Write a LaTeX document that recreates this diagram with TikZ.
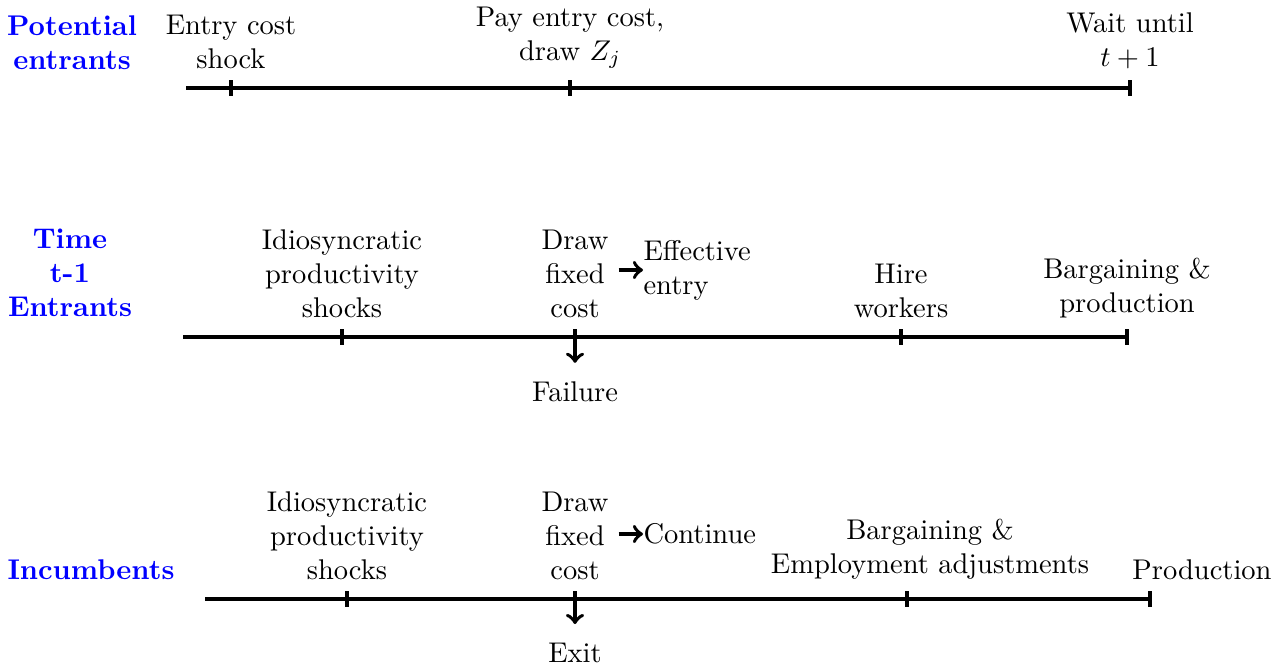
\documentclass[tikz,border=0pt]{standalone}
\usepackage{tikz}
\begin{document}
\begin{tikzpicture}[x=0.3509pt,y=-0.3509pt,
  tl/.style={line width=1.3pt},
  lbl/.style={align=center,anchor=south,above=3.2pt},
  side/.style={align=center,text=blue,font=\bfseries},
  arr/.style={line width=1.3pt,->}]
\useasboundingbox (0,0) rectangle (1273,667);
% ---- row 1
\coordinate (s1) at (186,88); \coordinate (e1) at (1130,88);
\coordinate (a1) at (231,88); \coordinate (b1) at (570,88);
\draw[tl] (s1) -- (e1);
\foreach \p in {a1,b1,e1} \draw[tl] (\p) ++(0,-8) -- ++(0,16);
\node[side] (pot) at (72,43) {Potential\\entrants};
\node[lbl] (ec) at (a1) {Entry cost\\shock};
\node[lbl] (pay) at (b1) {Pay entry cost,\\draw $Z_j$};
\node[lbl] (wait) at (e1) {Wait until\\$t+1$};
% ---- row 2
\coordinate (s2) at (183,337); \coordinate (e2) at (1127,337);
\coordinate (a2) at (342,337); \coordinate (b2) at (575,337); \coordinate (c2) at (901,337);
\draw[tl] (s2) -- (e2);
\foreach \p in {a2,c2,e2} \draw[tl] (\p) ++(0,-8) -- ++(0,16);
\node[side] (ent) at (70,273) {Time\\t-1\\Entrants};
\node[lbl] (id2) at (a2) {Idiosyncratic\\productivity\\shocks};
\node[lbl] (df2) at (b2) {Draw\\fixed\\cost};
\node[lbl] (hire) at (c2) {Hire\\workers};
\node[lbl] (bp) at (e2) {Bargaining \&\\production};
\node[align=left,anchor=west,inner sep=0pt] (eff) at (643,270) {Effective\\entry};
\draw[arr] (df2.east |- eff.west) -- (eff.west);
\coordinate (f2) at (575,329);
\node[inner sep=0pt] (fail) at (575,392) {Failure};
\draw[arr] (f2) -- ([yshift=6.5pt]fail.north);
% ---- row 3
\coordinate (s3) at (205,599); \coordinate (e3) at (1150,599);
\coordinate (a3) at (347,599); \coordinate (b3) at (575,599); \coordinate (c3) at (907,599);
\draw[tl] (s3) -- (e3);
\foreach \p in {a3,c3,e3} \draw[tl] (\p) ++(0,-8) -- ++(0,16);
\node[side] (inc) at (91,570) {Incumbents};
\node[lbl] (id3) at (a3) {Idiosyncratic\\productivity\\shocks};
\node[lbl] (df3) at (b3) {Draw\\fixed\\cost};
\node[lbl] (bea) at (930,599) {Bargaining \&\\Employment adjustments};
\node[lbl] (prod) at (1202,599) {Production};
\node[anchor=west,inner sep=0pt] (cont) at (643,534) {Continue};
\draw[arr] (df3.east |- cont.west) -- (cont.west);
\coordinate (f3) at (575,591);
\node[inner sep=0pt] (exit) at (575,653) {Exit};
\draw[arr] (f3) -- ([yshift=6.5pt]exit.north);
\end{tikzpicture}
\end{document}
